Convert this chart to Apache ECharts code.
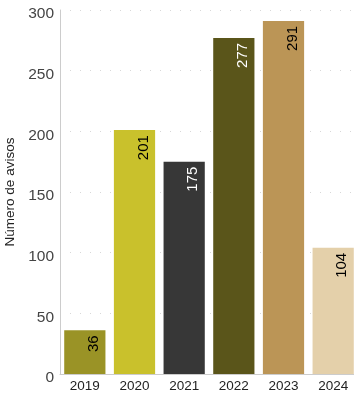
<!DOCTYPE html>
<html><head><meta charset="utf-8">
<script src="https://cdn.jsdelivr.net/npm/echarts@6/dist/echarts.min.js"></script>
<style>html,body{margin:0;padding:0;background:#fff}#c{width:354px;height:394px}</style>
</head><body><div id="c"></div>
<script>
const categories = ['2019','2020','2021','2022','2023','2024'];
const values = [36, 201, 175, 277, 291, 104];
const barColors = ['#9a9326','#c9c12c','#373737','#5a551a','#bb9556','#e4d0aa'];
const labelColors = ['#000','#000','#fff','#fff','#000','#000'];
const yTicks = [0, 50, 100, 150, 200, 250, 300];

const chart = echarts.init(document.getElementById('c'));
chart.setOption({
  animation: false,
  grid: { left: 60, top: 10, width: 298, height: 364, outerBoundsMode: 'none', containLabel: false },
  xAxis: {
    type: 'category', data: categories,
    axisLine: { lineStyle: { color: '#cccccc' } },
    axisTick: { lineStyle: { color: '#cccccc' }, length: 5 },
    axisLabel: { color: '#222', fontSize: 13.5, fontFamily: 'Liberation Sans', margin: 5 }
  },
  yAxis: {
    type: 'value', min: yTicks[0], max: yTicks[yTicks.length-1], interval: 50,
    name: 'Número de avisos', nameLocation: 'middle', nameGap: 34,
    nameTextStyle: { fontSize: 13.5, color: '#222', fontFamily: 'Liberation Sans' },
    axisLine: { show: true, lineStyle: { color: '#cccccc' } },
    axisTick: { show: false },
    axisLabel: {
      margin: 6,
      formatter: '{a|{value}}',
      rich: { a: { color: '#444', fontSize: 15.5, fontFamily: 'Liberation Sans', padding: [8, 0, 0, 0] } }
    },
    splitLine: { lineStyle: { color: '#d8d8d8', type: [1, 9], width: 1 } }
  },
  series: [{
    type: 'bar', barCategoryGap: '17%',
    data: values.map((v, i) => ({
      value: v,
      itemStyle: { color: barColors[i] },
      label: { color: labelColors[i] }
    })),
    label: {
      show: true, position: 'insideTop', rotate: 90, align: 'right', verticalAlign: 'middle',
      distance: 5, offset: [0, 9], fontSize: 15, fontFamily: 'Liberation Sans'
    }
  }]
});
</script></body></html>
